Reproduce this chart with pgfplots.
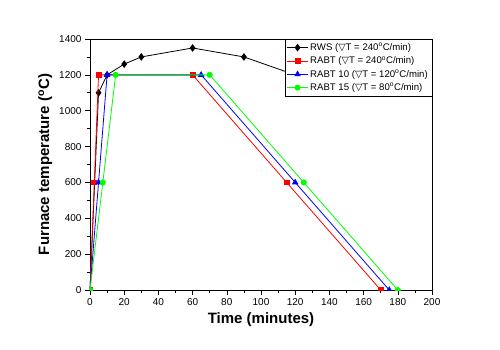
\documentclass[border=0pt]{standalone}
\usepackage{pgfplots}
\pgfplotsset{compat=1.18}
\usepackage{fontspec}
\setmainfont{Liberation Sans}
\newfontfamily\dejavu{DejaVu Sans}
\newcommand{\dT}{{\dejavu ▽}T}
\newcommand{\degC}{\textsuperscript{o}C}
\begin{document}
\begin{tikzpicture}
\path[use as bounding box] (-90pt,-59pt) rectangle (410pt,290pt);
\begin{axis}[
  scale only axis, width=342pt, height=251pt,
  at={(0pt,0pt)}, anchor=south west,
  xmin=0, xmax=200, ymin=0, ymax=1400,
  xtick={0,20,...,200}, ytick={0,200,...,1400},
  minor x tick num=1, minor y tick num=1,
  xtick pos=bottom, ytick pos=left,
  tick align=outside,
  major tick length=5pt, minor tick length=3pt,
  every tick/.style={black, line width=0.6pt},
  axis line style={line width=0.8pt},
  clip marker paths=true,
  /pgf/number format/assume math mode=true,
  /pgf/number format/1000 sep={},
  ticklabel style={font=\fontsize{10}{12}\selectfont},
  xlabel={\textbf{Time (minutes)}},
  ylabel={\textbf{Furnace temperature (\degC)}},
  label style={font=\fontsize{15}{18}\selectfont},
  legend style={at={(rel axis cs:1,1)}, anchor=north east, draw=black, line width=0.5pt,
    font=\fontsize{9.6}{11.5}\selectfont, row sep=0.6pt, inner sep=2pt,
    cells={anchor=west}},
  legend image code/.code={
    \draw[mark repeat=2,mark phase=2] plot coordinates {(0cm,0cm) (0.36cm,0cm) (0.72cm,0cm)};},
  legend image post style={line width=0.8pt},
  every axis plot/.append style={line width=0.8pt},
]
\addplot[black, mark=diamond*, mark size=3.2pt] coordinates {(0,0) (5,1100) (10,1200) (20,1260) (30,1300) (60,1350) (90,1300) (120,1200)};
\addlegendentry{RWS (\dT{} = 240\degC/min)}
\addplot[red, mark=square*, mark size=2.4pt] coordinates {(0,0) (2.5,600) (5,1200) (60,1200) (115,600) (170,0)};
\addlegendentry{RABT (\dT{} = 240\degC/min)}
\addplot[blue, mark=triangle*, mark size=3pt] coordinates {(0,0) (5,600) (10,1200) (65,1200) (120,600) (175,0)};
\addlegendentry{RABT 10 (\dT{} = 120\degC/min)}
\addplot[green, mark=*, mark size=2.6pt] coordinates {(0,0) (7.5,600) (15,1200) (70,1200) (125,600) (180,0)};
\addlegendentry{RABT 15 (\dT{} = 80\degC/min)}
\end{axis}
\end{tikzpicture}
\end{document}
